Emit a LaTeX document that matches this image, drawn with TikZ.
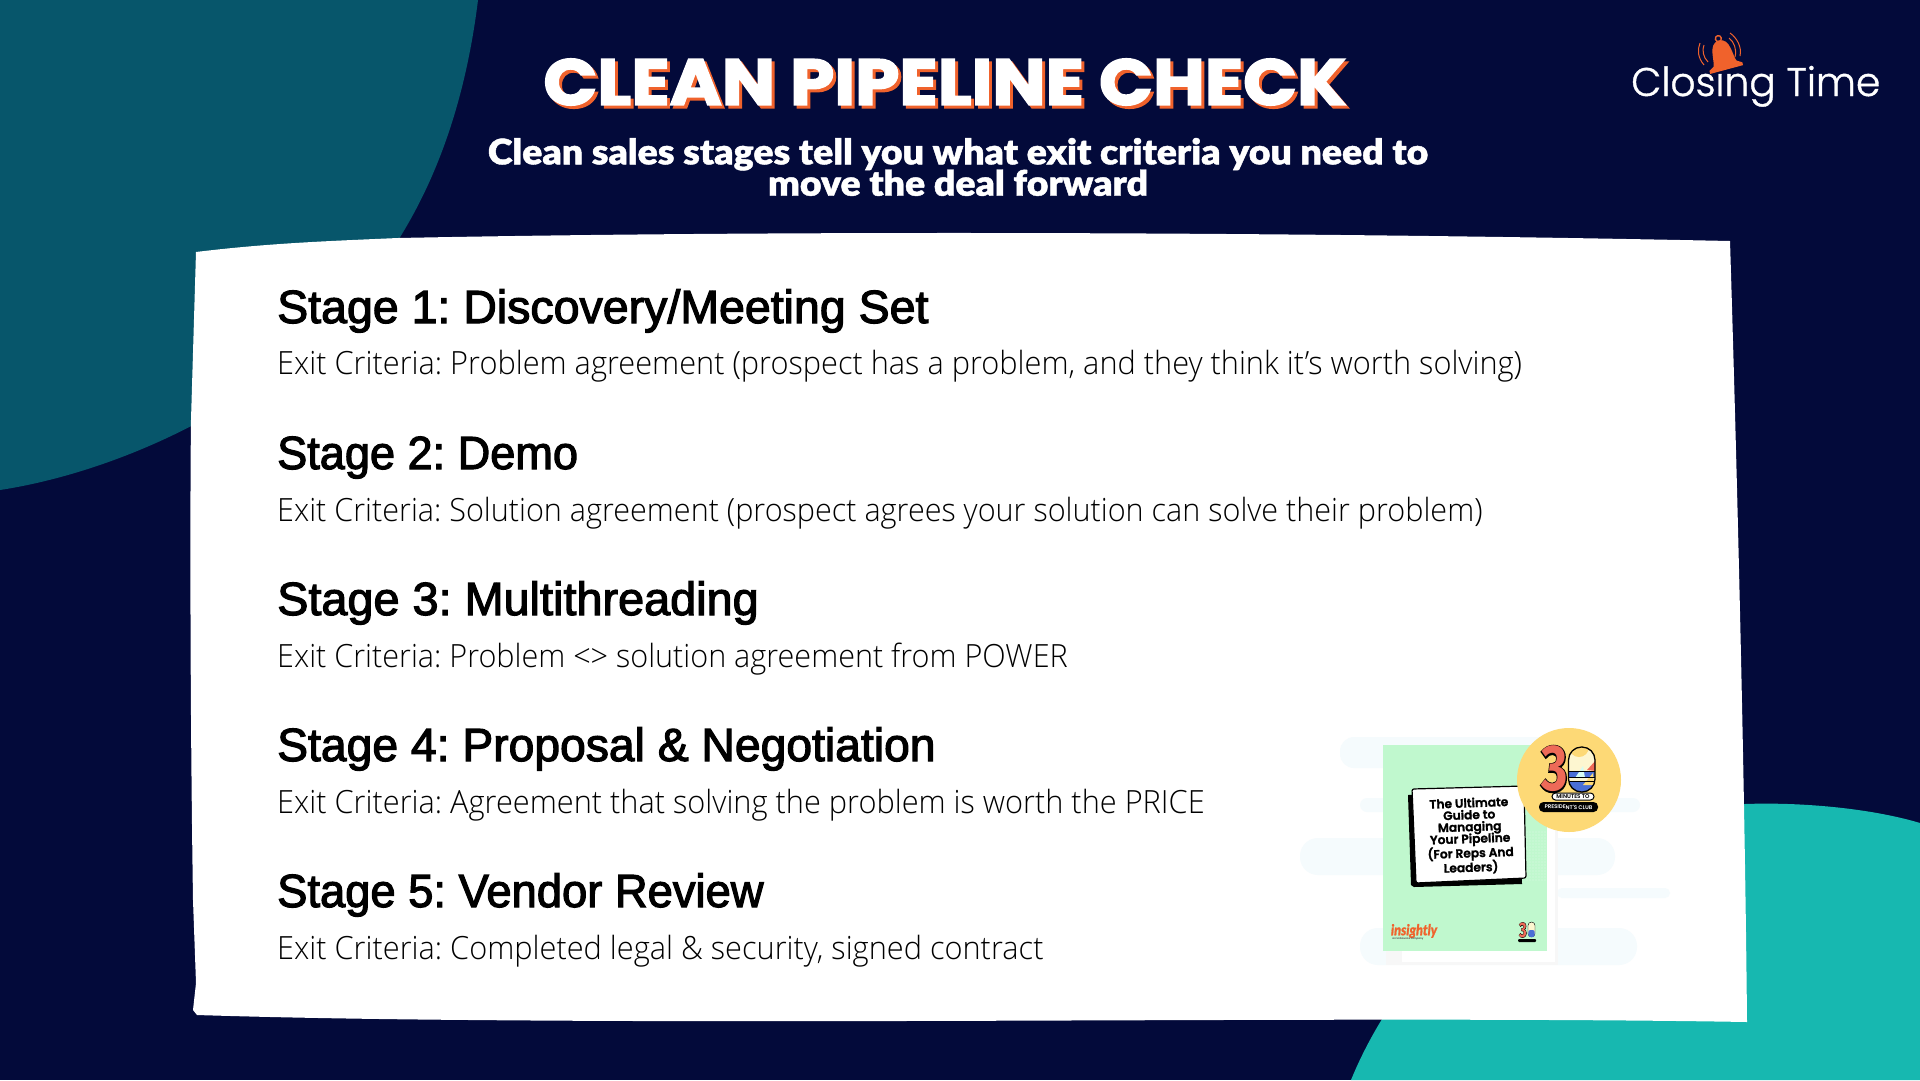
\documentclass[tikz,border=0pt]{standalone}
\usepackage{fontspec}
\setmainfont{Liberation Sans}
\newfontfamily\titlefont[FakeBold=2.5]{Poppins Bold}
\newfontfamily\titleback[FakeBold=2.5]{Poppins Bold}
\newfontfamily\subfont[FakeBold=1.2]{Lato Black}
\newfontfamily\headfont[FakeBold=2.5]{Liberation Sans}
\newfontfamily\bodyfont{Open Sans Light}
\newfontfamily\logofont[FakeBold=1]{Poppins Light}
\newfontfamily\smallfont{Poppins SemiBold}
\newfontfamily\coverfont[FakeBold=1.5]{Poppins SemiBold}
\newfontfamily\numfont{Fira Sans Bold}
\newfontfamily\numback[FakeBold=4]{Fira Sans Bold}
\usetikzlibrary{calc}
\definecolor{navy}{HTML}{030A3A}
\definecolor{deepteal}{HTML}{07566B}
\definecolor{brightteal}{HTML}{17B8B0}
\definecolor{emberorange}{HTML}{F0622C}
\definecolor{bookgreen}{HTML}{C0F8CE}
\definecolor{paleblue}{HTML}{F5FBFD}
\definecolor{badgeyellow}{HTML}{FDD976}
\definecolor{numred}{HTML}{EE6A58}
\definecolor{zeroblue}{HTML}{4A6FD6}
\definecolor{zerocream}{HTML}{FDF6D0}
\tikzset{
	stagehead/.style={anchor=base west,inner sep=0pt,font=\headfont\fontsize{46.5}{46}\selectfont},
	stagebody/.style={anchor=base west,inner sep=0pt,xscale=0.96,font=\bodyfont\fontsize{32}{32}\selectfont},
	bloblayer/.style={fill=paleblue,rounded corners=14pt},
	booktext/.style={align=center,inner sep=0pt,font=\coverfont\fontsize{12.2}{13}\selectfont,rotate=2}
}
\begin{document}
\frenchspacing
\begin{tikzpicture}[x=1pt,y=-1pt]
	%%%%% BACKGROUND %%%%%
	\useasboundingbox (0, 0) rectangle (1920, 1080);
	\fill[navy] (0, 0) rectangle (1920, 1080);
	\fill[deepteal] (0, 0) -- (478, 0) .. controls (462, 130) and (420, 210) .. (385, 260) .. controls (300, 390) and (130, 470) .. (0, 490) -- cycle;
	\fill[brightteal] (1351, 1080) .. controls (1400, 960) and (1530, 815) .. (1745, 804) .. controls (1800, 802) and (1870, 808) .. (1920, 823) -- (1920, 1080) -- cycle;

	%%%%% CARD %%%%%
	\fill[white] (196, 252) .. controls (270, 243) and (330, 241) .. (398, 238) .. controls (800, 230) and (1300, 232) .. (1730, 241) .. controls (1738, 500) and (1745, 800) .. (1747, 1022) .. controls (1400, 1016) and (900, 1024) .. (470, 1020) .. controls (350, 1019) and (260, 1017) .. (197, 1015) -- (193, 1010) -- (196, 983) -- (193, 900) .. controls (190, 700) and (190, 500) .. (191, 420) -- cycle;

	%%%%% HEADER %%%%%
	\node[text=emberorange,inner sep=0pt,xscale=1.09,font=\titleback\fontsize{65}{65}\selectfont] (titleshadow) at (948, 85) {CLEAN PIPELINE CHECK};
	\node[text=white,inner sep=0pt,xscale=1.09,font=\titlefont\fontsize{65}{65}\selectfont] (title) at (945, 82) {CLEAN PIPELINE CHECK};
	\node[text=white,inner sep=0pt,align=center,xscale=1.07,font=\subfont\fontsize{35}{33}\selectfont] (subtitle) at (958, 167) {Clean sales stages tell you what exit criteria you need to\\[-1.6pt]move the deal forward};

	%%%%% STAGES %%%%%
	\node[stagehead] (headone) at (277, 323) {Stage 1: Discovery/Meeting Set};
	\node[stagebody] (bodyone) at (277, 374) {Exit Criteria: Problem agreement (prospect has a problem, and they think it’s worth solving)};
	\node[stagehead,xscale=0.97] (headtwo) at (277, 469) {Stage 2: Demo};
	\node[stagebody,xscale=0.995] (bodytwo) at (277, 521) {Exit Criteria: Solution agreement (prospect agrees your solution can solve their problem)};
	\node[stagehead,xscale=1.007] (headthree) at (277, 615) {Stage 3: Multithreading};
	\node[stagebody,xscale=0.995] (bodythree) at (277, 667) {Exit Criteria: Problem <> solution agreement from POWER};
	\node[stagehead,xscale=0.995] (headfour) at (277, 761) {Stage 4: Proposal \& Negotiation};
	\node[stagebody] (bodyfour) at (277, 813) {Exit Criteria: Agreement that solving the problem is worth the PRICE};
	\node[stagehead,xscale=0.975] (headfive) at (277, 907) {Stage 5: Vendor Review};
	\node[stagebody] (bodyfive) at (277, 959) {Exit Criteria: Completed legal \& security, signed contract};

	%%%%% BOOK %%%%%
	\fill[bloblayer] (1340, 737) rectangle (1560, 768);
	\fill[bloblayer,rounded corners=7pt] (1360, 798) rectangle (1640, 812);
	\fill[bloblayer,rounded corners=18pt] (1300, 838) rectangle (1615, 875);
	\fill[bloblayer,rounded corners=5pt] (1557, 888) rectangle (1670, 898);
	\fill[bloblayer,rounded corners=18pt] (1360, 928) rectangle (1637, 965);
	\fill[black!3] (1386, 750) rectangle (1558, 965);
	\fill[white] (1402, 760) rectangle (1555, 962);
	\fill[bookgreen] (1383, 745) rectangle (1547, 951);
	\foreach \dotx in {0,...,6}
		\foreach \doty in {0,...,16}
			\fill[white,opacity=0.45] (1527+\dotx*3, 832+\doty*3) circle (0.7);

	\fill[black] (1408, 795) -- (1520, 790) -- (1522, 884) -- (1414, 887) -- (1411, 885) -- cycle;
	\fill[white,draw=black,line width=1.2pt,rounded corners=2pt] (1412, 789) -- (1524, 786) -- (1526, 878) -- (1416, 883) -- cycle;
	\node[booktext] (booktitle) at (1470, 836) {The Ultimate\\[-1.1pt]Guide to\\[-1.1pt]Managing\\[-1.1pt]Your Pipeline\\[-1.1pt](For Reps And\\[-1.1pt]Leaders)};

	\node[text=emberorange,inner sep=0pt,xscale=0.85,font=\subfont\itshape\fontsize{15}{15}\selectfont] (insightly) at (1414, 931) {insightly};
	\node[text=black!70,inner sep=0pt,font=\smallfont\fontsize{2.6}{3}\selectfont] (insightlysub) at (1408, 939) {an Unbounce company};

	%%%%% BADGE %%%%%
	\fill[badgeyellow] (1569, 780) circle (52);
	\node[text=black,inner sep=0pt,xscale=0.78,font=\numback\fontsize{65}{65}\selectfont] (threeback) at (1554.5, 769) {3};
	\node[text=numred,inner sep=0pt,xscale=0.78,font=\numfont\fontsize{65}{65}\selectfont] (three) at (1554.5, 769) {3};
	\begin{scope}
		\clip[rounded corners=13pt] (1568.5, 747) rectangle (1595, 792);
		\fill[zerocream] (1568, 747) rectangle (1595, 792);
		\fill[badgeyellow] (1579, 747) circle (10);
		\fill[numred] (1587, 770) -- (1596, 760) -- (1596, 771) -- cycle;
		\fill[zeroblue] (1568, 771) rectangle (1595, 777);
		\fill[zeroblue] (1568, 781) rectangle (1595, 792);
		\fill[zerocream!60!cyan!40] (1575, 778) -- (1585, 778) -- (1583, 766) -- cycle;
		\fill[badgeyellow] (1583, 785) -- (1594, 785) -- (1593, 773) -- cycle;
		\draw[black,line width=0.7pt] (1568, 771) -- (1595, 771);
		\draw[black,line width=0.7pt] (1568, 777) -- (1595, 777);
		\draw[black,line width=0.7pt] (1568, 781) -- (1595, 781);
	\end{scope}
	\draw[black,line width=1.3pt,rounded corners=13pt] (1568.5, 747) rectangle (1595, 792);
	\fill[white,draw=black,line width=1pt,rounded corners=3.5pt] (1552, 793) rectangle (1594, 800);
	\node[text=black,inner sep=0pt,font=\smallfont\fontsize{5.6}{6}\selectfont] (minutes) at (1573, 796.5) {MINUTES TO};
	\fill[black,rounded corners=4.5pt] (1539, 802) rectangle (1598, 812);
	\node[text=white,inner sep=0pt,font=\smallfont\fontsize{5.4}{6}\selectfont,rotate=-2] (club) at (1568.5, 807) {PRESIDENT'S CLUB};

	%%%%% SMALL MARK ON THE COVER %%%%%
	\node[text=black,inner sep=0pt,xscale=0.7,font=\numback\fontsize{21}{21}\selectfont] (markback) at (1523, 930) {3};
	\node[text=numred,inner sep=0pt,xscale=0.7,font=\numfont\fontsize{21}{21}\selectfont] (markthree) at (1523, 930) {3};
	\fill[zerocream,draw=black,line width=0.4pt,rounded corners=3.5pt] (1528, 922) rectangle (1535, 937);
	\fill[zeroblue,rounded corners=2pt] (1528.4, 930) rectangle (1534.6, 937);
	\fill[black,rounded corners=1pt] (1518, 939) rectangle (1536, 942);

	%%%%% LOGO %%%%%
	\node[text=white,anchor=base west,inner sep=0pt,xscale=0.98,font=\logofont\fontsize{40}{40}\selectfont] (logo) at (1631, 96) {Closing Time};
	\begin{scope}[shift={(1723, 56)},rotate=15]
		\fill[emberorange] (-17, 11) -- (-12, 8) .. controls (-9, 3) and (-12, -16) .. (0, -16) .. controls (12, -16) and (9, 3) .. (12, 8) -- (17, 11) -- (17, 14) -- (-17, 14) -- cycle;
		\draw[emberorange,line width=1.4pt] (0, -18) circle (3);
	\end{scope}
	\draw[emberorange,line width=1pt] (1700, 43) .. controls (1697, 50) and (1698, 58) .. (1704, 65);
	\draw[emberorange,line width=1pt] (1704, 45) .. controls (1702, 50) and (1703, 57) .. (1708, 62);
	\draw[emberorange,line width=1pt] (1730, 33) .. controls (1737, 38) and (1742, 47) .. (1740, 56);
	\draw[emberorange,line width=1pt] (1729, 38) .. controls (1734, 42) and (1737, 49) .. (1735, 57);
\end{tikzpicture}
\end{document}
